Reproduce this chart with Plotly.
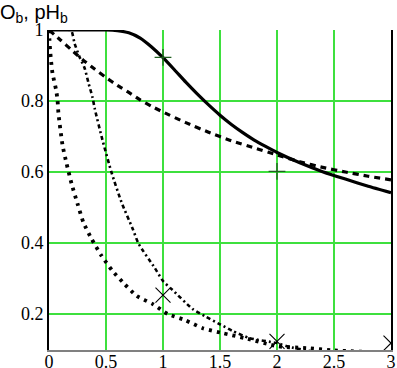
import plotly.graph_objects as go

# Solid curve
solid_x = [0, 0.5, 0.6, 0.7, 0.8, 0.9, 1.0, 1.1, 1.2, 1.3, 1.4, 1.5, 1.6, 1.7, 1.8, 1.9, 2.0, 2.2, 2.4, 2.6, 2.8, 3.0]
solid_y = [1.0, 1.0, 0.998, 0.992, 0.977, 0.952, 0.922, 0.888, 0.853, 0.82, 0.789, 0.76, 0.734, 0.711, 0.69, 0.672, 0.655, 0.626, 0.601, 0.58, 0.56, 0.542]

# Dashed curve
dashed_x = [0, 0.1, 0.2, 0.3, 0.4, 0.5, 0.6, 0.7, 0.8, 0.9, 1.0, 1.2, 1.4, 1.6, 1.8, 2.0, 2.2, 2.4, 2.6, 2.8, 3.0]
dashed_y = [1.0, 0.972, 0.943, 0.915, 0.89, 0.866, 0.844, 0.824, 0.803, 0.785, 0.769, 0.739, 0.712, 0.688, 0.668, 0.648, 0.629, 0.613, 0.6, 0.588, 0.578]

# Dash-dot curve
dashdot_x = [0, 0.18, 0.2, 0.224, 0.268, 0.312, 0.347, 0.382, 0.4, 0.47, 0.549, 0.637, 0.734, 0.786, 0.927, 1.0, 1.076, 1.26, 1.366, 1.5, 1.612, 1.76, 2.0, 2.087, 2.3, 2.6, 3.0]
dashdot_y = [1.0, 1.0, 0.995, 0.963, 0.924, 0.893, 0.85, 0.81, 0.78, 0.689, 0.598, 0.514, 0.44, 0.398, 0.33, 0.293, 0.27, 0.214, 0.194, 0.171, 0.152, 0.132, 0.118, 0.109, 0.095, 0.085, 0.075]

# Dotted curve
dotted_x = [0, 0.004, 0.01, 0.019, 0.031, 0.063, 0.075, 0.083, 0.119, 0.154, 0.198, 0.25, 0.303, 0.373, 0.461, 0.558, 0.655, 0.769, 0.91, 1.042, 1.191, 1.349, 1.525, 1.718, 2.008, 2.263, 2.482, 3.0]
dotted_y = [1.0, 0.972, 0.943, 0.91, 0.878, 0.83, 0.802, 0.765, 0.675, 0.624, 0.567, 0.511, 0.457, 0.412, 0.364, 0.321, 0.287, 0.251, 0.228, 0.2, 0.183, 0.16, 0.146, 0.132, 0.109, 0.104, 0.098, 0.09]

# Markers
plus_x = [1, 2]
plus_y = [0.923, 0.602]
cross_x = [1, 2, 3]
cross_y = [0.253, 0.123, 0.118]

x_ticks = [0, 0.5, 1, 1.5, 2, 2.5, 3]
x_tick_labels = ["0", "0.5", "1", "1.5", "2", "2.5", "3"]
y_ticks = [0.2, 0.4, 0.6, 0.8, 1.0]
y_tick_labels = ["0.2", "0.4", "0.6", "0.8", "1"]

fig = go.Figure()
fig.add_trace(go.Scatter(x=solid_x, y=solid_y, mode="lines",
                         line=dict(color="black", width=3.2, shape="spline", smoothing=0.5)))
fig.add_trace(go.Scatter(x=dashed_x, y=dashed_y, mode="lines",
                         line=dict(color="black", width=3.2, dash="6px,5px", shape="spline", smoothing=0.5)))
fig.add_trace(go.Scatter(x=dashdot_x, y=dashdot_y, mode="lines",
                         line=dict(color="black", width=2.6, dash="4px,3px,2px,3px", shape="spline", smoothing=0.6)))
fig.add_trace(go.Scatter(x=dotted_x, y=dotted_y, mode="lines",
                         line=dict(color="black", width=3.8, dash="3px,5px", shape="spline", smoothing=0.6)))
fig.add_trace(go.Scatter(x=plus_x, y=plus_y, mode="markers",
                         marker=dict(symbol="cross-thin", size=12, line=dict(color="#1f5f1f", width=1.3))))
fig.add_trace(go.Scatter(x=cross_x, y=cross_y, mode="markers", cliponaxis=True,
                         marker=dict(symbol="x-thin", size=15, line=dict(color="black", width=1.1))))

tick_font = dict(family="Liberation Serif, Times New Roman, serif", size=18, color="black")
fig.update_layout(
    template="none",
    width=397, height=368,
    margin=dict(l=49, r=6, t=30, b=18),
    paper_bgcolor="white", plot_bgcolor="white",
    showlegend=False,
    font=dict(family="Liberation Serif, Times New Roman, serif", size=18, color="black"),
    annotations=[dict(text="O<sub>b</sub>, pH<sub>b</sub>", xref="paper", yref="paper",
                      x=0, y=1, xanchor="left", yanchor="bottom", xshift=-51, yshift=2,
                      showarrow=False, font=dict(family="Liberation Sans, Arial, sans-serif", size=20, color="black"))],
)
fig.update_xaxes(range=[0, 3], tickvals=x_ticks, ticktext=x_tick_labels, showgrid=True,
                 gridcolor="#3ee03e", gridwidth=2, zeroline=False, showline=True,
                 linecolor="#808080", linewidth=2, ticks="", ticklabelstandoff=-6,
                 tickfont=tick_font)
fig.update_yaxes(range=[0.0986, 1], tickvals=y_ticks, ticktext=y_tick_labels, showgrid=True,
                 gridcolor="#3ee03e", gridwidth=2, zeroline=False, showline=True, mirror=True,
                 linecolor="black", linewidth=2, ticks="",
                 tickfont=tick_font)
fig.write_html("out.html", config={"displayModeBar": False},
               post_script="document.body.style.margin='0';document.body.style.padding='0';")
